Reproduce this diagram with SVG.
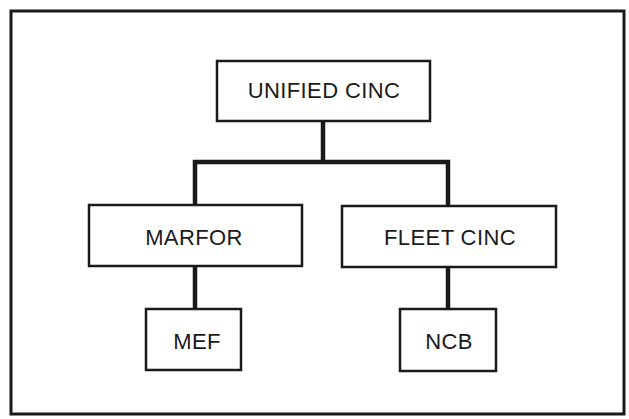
<svg xmlns="http://www.w3.org/2000/svg" width="629" height="419" viewBox="0 0 629 419">
<style>
.box{fill:#fff;stroke:#1a1a1a;stroke-width:2.5}
.lbl{font-family:"Liberation Sans",Arial,sans-serif;font-size:22px;fill:#1a1a1a;text-anchor:middle;letter-spacing:0.4px}
.conn{fill:none;stroke:#1a1a1a;stroke-width:4.5;stroke-linecap:butt;stroke-linejoin:miter}
</style>
<rect width="629" height="419" fill="#fff"/>
<rect x="11" y="11" width="613" height="403" fill="none" stroke="#1a1a1a" stroke-width="3"/>
<g id="connectors">
<path class="conn" d="M323 121 V162"/>
<path class="conn" d="M195 205 V162 H448 V206"/>
<path class="conn" d="M195 266 V309"/>
<path class="conn" d="M448 267 V309"/>
</g>
<g id="unified-cinc">
<rect class="box" x="217" y="61" width="213" height="60"/>
<text class="lbl" x="324" y="98">UNIFIED CINC</text>
</g>
<g id="marfor">
<rect class="box" x="89" y="205" width="213" height="61"/>
<text class="lbl" x="194" y="245">MARFOR</text>
</g>
<g id="fleet-cinc">
<rect class="box" x="342" y="206" width="214" height="61"/>
<text class="lbl" x="450" y="245">FLEET CINC</text>
</g>
<g id="mef">
<rect class="box" x="146" y="309" width="95" height="61"/>
<text class="lbl" x="197" y="349">MEF</text>
</g>
<g id="ncb">
<rect class="box" x="400" y="309" width="96" height="62"/>
<text class="lbl" x="449" y="349">NCB</text>
</g>
</svg>
